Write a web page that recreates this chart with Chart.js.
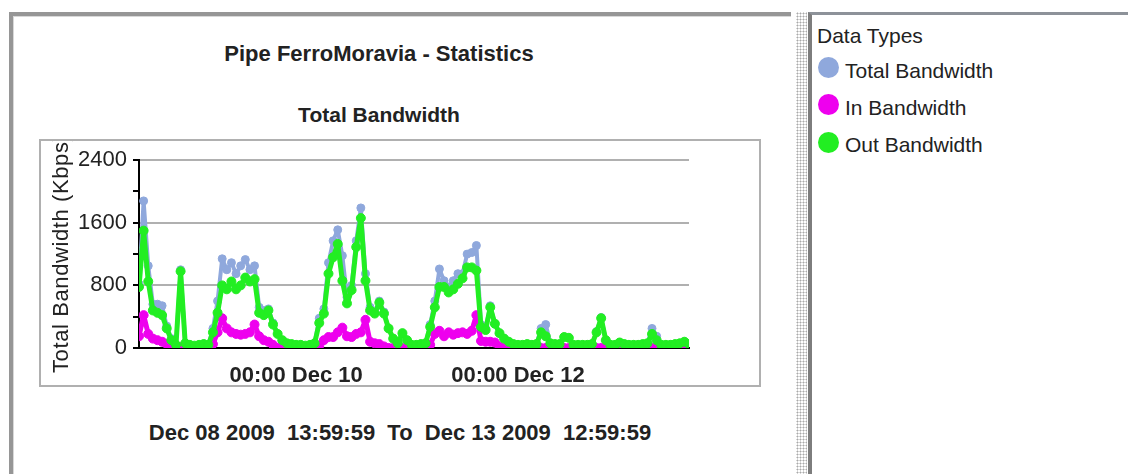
<!DOCTYPE html>
<html>
<head>
<meta charset="utf-8">
<script src="https://cdn.jsdelivr.net/npm/chart.js@4.4.1/dist/chart.umd.min.js"></script>
<style>
  html, body { margin:0; padding:0; background:#fff; }
  body { width:1128px; height:474px; position:relative; overflow:hidden; font-family:"Liberation Sans", Arial, sans-serif; color:#222; }
  #lp { position:absolute; left:9px; top:12px; width:778px; height:470px; border-top:4px solid #969696; border-left:4px solid #969696; box-shadow: inset 1px 1px 0 #d8d8d8; }
  #split { position:absolute; left:796px; top:12px; width:11px; height:462px;
           background-image: radial-gradient(circle, #a9a9a9 0.9px, transparent 1.1px); background-size:3px 3px; }
  #rp { position:absolute; left:808px; top:12px; width:320px; height:470px; border-top:3px solid #8d9299; border-left:4px solid #7d7d7d; }
  .t { position:absolute; white-space:pre; font-weight:bold; text-align:center; line-height:1; }
  #title { left:0; width:758px; top:43px; font-size:22px; }
  #sub { left:0; width:758px; top:104px; font-size:21px; }
  #range { left:0; width:800px; top:422px; font-size:22px; }
  #box { position:absolute; left:39px; top:139px; width:718px; height:244px; border:2px solid #b0b0b0; background:#fff; overflow:hidden; }
  #c { display:block; position:absolute; left:0; top:0; }
  #ytitle { position:absolute; font-size:22px; line-height:22px; height:22px; white-space:nowrap; letter-spacing:0.6px;
            left:9px; top:232px; transform-origin:0 0; transform:rotate(-90deg); }
  #legend { position:absolute; left:817px; top:0; font-size:21px; line-height:1; }
  .lg { position:absolute; white-space:nowrap; }
  .dot { position:absolute; width:21px; height:21px; border-radius:50%; }
</style>
</head>
<body>
<div id="lp"></div>
<div id="split"></div>
<div id="rp"></div>
<div id="title" class="t">Pipe FerroMoravia - Statistics</div>
<div id="sub" class="t">Total Bandwidth</div>
<div id="box"><canvas id="c" width="718" height="244" style="width:718px;height:244px"></canvas><div id="ytitle"></div></div>
<div id="range" class="t">Dec 08 2009  13:59:59  To  Dec 13 2009  12:59:59</div>
<div id="legend"></div>
<script>
// ---- data (hourly samples from Dec 08 2009 14:00 to Dec 13 2009 13:00) ----
const seriesNames = ['Total Bandwidth', 'In Bandwidth', 'Out Bandwidth'];
const seriesColors = ['#8fa8dc', '#ee00ee', '#22ee22'];
const legendTitle = 'Data Types';

const totalBw = [
  820,1880,1050,560,560,540,280,120,40,1000,
  60,40,30,40,50,40,250,600,1140,1000,
  1090,950,1050,1130,1000,1050,520,480,500,320,
  180,100,60,50,40,40,30,40,60,380,
  500,1090,1370,1510,1180,650,800,1370,1790,950,
  520,460,600,460,250,120,60,190,100,40,
  40,50,60,300,600,1010,860,780,860,950,
  950,1200,1220,1310,300,250,540,310,190,120,
  80,50,40,40,50,40,50,250,300,60,
  50,50,140,130,40,40,40,40,50,210,
  390,100,40,40,70,50,40,40,40,50,
  60,250,150,40,40,40,50,60,80,50
];
const inBw = [
  150,420,180,120,100,80,50,20,0,10,
  0,0,0,0,0,0,50,200,380,250,
  200,180,170,180,200,300,150,100,80,40,
  0,0,0,0,0,0,0,0,0,30,
  100,140,140,200,260,150,140,180,200,360,
  80,60,50,20,0,0,0,0,0,0,
  0,0,0,40,180,220,150,200,170,190,
  200,180,220,420,90,80,80,70,20,0,
  0,0,0,0,0,0,0,0,0,0,
  0,0,0,0,0,0,0,0,0,0,
  0,0,0,0,0,0,0,0,0,0,
  0,0,0,0,0,0,0,0,0,0
];
const outBw = [
  780,1500,850,480,450,420,250,100,40,980,
  60,40,30,40,50,40,200,450,800,750,
  850,750,800,900,850,880,450,420,480,300,
  180,100,60,50,40,40,30,40,60,320,
  440,950,1160,1330,860,570,740,1290,1660,860,
  480,440,580,440,250,120,60,190,100,40,
  40,50,60,270,520,780,780,710,750,820,
  890,1030,1030,990,270,230,520,310,190,120,
  80,50,40,40,50,40,50,200,150,60,
  50,50,140,130,40,40,40,40,50,200,
  380,100,40,40,70,50,40,40,40,50,
  60,180,100,40,40,40,50,60,80,50
];
const xTickHours = [34, 82];               // hours after Dec 08 14:00
const xTickLabels = ['00:00 Dec 10', '00:00 Dec 12'];
const yTickLabels = [0, 800, 1600, 2400];
const yAxisTitle = 'Total Bandwidth (Kbps)';

document.getElementById('ytitle').textContent = yAxisTitle;

// ---- legend ----
const legend = document.getElementById('legend');
const lt = document.createElement('div');
lt.className = 'lg'; lt.style.left = '0px'; lt.style.top = '25px'; lt.textContent = legendTitle;
legend.appendChild(lt);
const dotTops = [57, 94, 132];
const textTops = [60, 97, 134];
seriesNames.forEach((n, k) => {
  const d = document.createElement('div');
  d.className = 'dot'; d.style.left = '1px'; d.style.top = dotTops[k] + 'px'; d.style.background = seriesColors[k];
  legend.appendChild(d);
  const t = document.createElement('div');
  t.className = 'lg'; t.style.left = '28px'; t.style.top = textTops[k] + 'px'; t.textContent = n;
  legend.appendChild(t);
});

// ---- chart ----
const FAM = '"Liberation Sans", Arial, sans-serif';
function mk(label, vals, color, lw, pr, order) {
  return {
    label, order,
    data: vals.map((y, i) => ({ x: i, y })),
    borderColor: color, backgroundColor: color,
    pointBackgroundColor: color, pointBorderColor: color,
    pointRadius: pr, pointBorderWidth: 1, borderWidth: lw, tension: 0,
    borderJoinStyle: 'round', borderCapStyle: 'round'
  };
}
new Chart(document.getElementById('c'), {
  type: 'line',
  data: { datasets: [
    mk(seriesNames[0], totalBw, seriesColors[0], 4, 4, 2),
    mk(seriesNames[1], inBw, seriesColors[1], 5, 4.5, 1),
    mk(seriesNames[2], outBw, seriesColors[2], 5, 4.5, 0)
  ]},
  options: {
    responsive: false, animation: false, devicePixelRatio: 1,
    layout: { padding: { left: 0, top: 19, right: 70, bottom: 0 } },
    plugins: { legend: { display: false }, tooltip: { enabled: false } },
    scales: {
      x: {
        type: 'linear', min: 0, max: totalBw.length - 1,
        afterBuildTicks: s => { s.ticks = xTickHours.map(v => ({ value: v })); },
        afterFit: s => { s.height = 37; },
        grid: { display: false, drawTicks: false },
        border: { display: true, color: '#000', width: 2 },
        ticks: {
          autoSkip: false, maxRotation: 0, padding: 15, color: '#222',
          font: { family: FAM, size: 22, weight: 'bold' },
          callback: v => { const k = xTickHours.indexOf(v); return k >= 0 ? xTickLabels[k] : ''; }
        }
      },
      y: {
        min: 0, max: 2400,
        afterFit: s => { s.width = 98; },
        ticks: {
          stepSize: 400, autoSkip: false, padding: 6, color: '#222',
          font: { family: FAM, size: 22 },
          callback: v => yTickLabels.includes(v) ? String(v) : ''
        },
        grid: {
          color: c => (c.tick && yTickLabels.includes(c.tick.value)) ? '#b0b0b0' : 'rgba(0,0,0,0)',
          lineWidth: 2, tickColor: '#000', tickLength: 6, drawTicks: true
        },
        border: { color: '#000', width: 2 },
        title: { display: false }
      }
    }
  }
});
</script>
</body>
</html>
